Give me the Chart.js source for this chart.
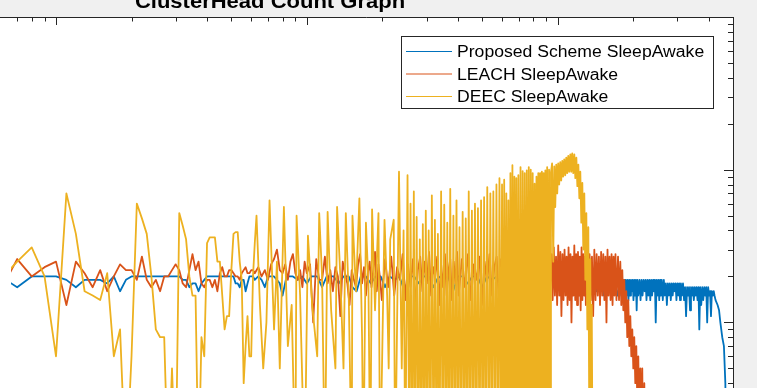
<!DOCTYPE html>
<html>
<head>
<meta charset="utf-8">
<script src="https://cdn.jsdelivr.net/npm/chart.js@4.4.1/dist/chart.umd.min.js"></script>
<style>
  html, body { margin: 0; padding: 0; background: #f0f0f0; overflow: hidden; }
  canvas { display: block; }
</style>
</head>
<body>
<canvas id="chart" width="757" height="388"></canvas>
<script>
// rounds (x, log axis) and cluster head counts (y, log axis)
// a count of 1 means "below the visible part of the plot"
const proposedRounds = [
  6,7,8,9,10,11,12,13,14,15, 16,17,18,19,20,21,22,23,24,25,
  26,27,28,29,30,31,32,33,34,35, 36,37,38,39,40,41,42,43,44,45,
  46,47,48,49,50,51,52,53,54,55, 56,57,58,59,60,61,62,
  64,66,68,70,74,78,80,83,88,92, 96,100,104,110,115,120,128,134,140,147,
  152,158,164,172,180,188,197,205,214,224, 234,245,256,268,280,293,306,320,335,350,
  366,383,400,418,437,457,478,500,523,547, 572,598,625,654,684,715,748,782,818,855,
  894,935,
  980,1030,1080,1130,1180,1230,1280,1330,1380,1430, 1480,1530,1580,1630,1680,1730,
  1780,1795,1810,1825,1840,1855,1870,1885,1900,1915, 1930,1945,1960,1975,1990,2005,2020,2035,2050,2065,
  2080,2095,2120,2140,2160,2180,2200,2220,2240,2260, 2280,2300,2320,2340,2360,2380,2400,2420,2440,2460,
  2480,2500,2520,2540,2560,2580,2600,2625,2650,2675, 2700,2725,2750,2775,2800,2825,2850,2875,2900,2925,
  2950,2975,3000,3025,3050,3075,3100,3130,3160,3190, 3220,3250,3280,3310,3340,3370,3400,3430,3460,3490,
  3520,3550,3580,3610,3640,3670,3700,3735,3770,3805, 3840,3875,3910,3945,3980,4015,4050,4085,4120,4155,
  4190,
  4220,4260,4340,4400,4452,4530,4600,4661,4700,5000
];
const proposedCH = [
  20,17,20,20,20,19,17,19,19,19, 18,20,16,19,20,20,20,20,20,20,
  20,20,20,20,20,20,19,19,17,18, 18,16,18,19,20,20,20,20,20,20,
  20,20,20,20,20,20,18,18,17,19, 19,16,18,20,20,20,19,
  20,19,17,20,20,18,15,20,20,19, 20,18,20,20,17,20,20,18,20,20,
  17,16,20,20,18,20,20,17,20,19, 20,16,20,20,18,20,20,17,20,19,
  20,16,20,20,18,20,20,17,20,19, 20,16,20,20,18,20,17,20,20,16,
  20,19,
  20,15,19,16,20,15,19,15,20,16, 19,15,20,16,19,15,
  19,15,19,14,19,16,19,15,19,14, 19,15,19,16,19,14,19,15,19,12,
  19,15,19,14,19,15,19,16,19,14, 19,15,19,14,19,15,19,16,19,10,
  19,15,19,14,19,15,19,14,19,15, 18,13,18,15,18,14,18,15,18,16,
  18,14,18,15,18,14,18,15,18,14, 17,11,17,15,17,12,17,15,17,14,
  17,15,17,14,17,9,17,13,17,14, 17,15,17,10,17,15,16,11,16,15,
  16,
  15,14,13,12,10,8,7,4,1,1
];

const leachRounds = [
  6,7,8,9,10,11,12,13,14,15, 16,17,18,19,20,21,22,23,24,25,
  26,27,28,29,30,31,32,33,34,35, 36,37,38,39,40,41,42,43,44,45,
  46,47,48,49,50,51,52,53,54,55, 56,57,58,59,60,61,62,
  64,66,68,70,72,74,76,78,80,82, 84,86,88,90,92,94,96,98,100,103,
  106,109,112,115,118,121,124,127,130,133, 136,139,142,145,148,151,154,157,160,163,
  166,169,172,175,178,181,184,187,190,193, 196,199,205,211,217,223,229,235,241,247,
  253,259,265,271,277,283,289,295,301,307, 313,319,325,331,337,343,349,355,361,367,
  373,379,385,391,397,403,415,427,439,451, 463,475,487,499,511,523,535,547,559,571,
  583,595,607,619,631,643,655,667,679,691, 703,715,727,739,751,763,775,787,799,811,
  823,835,847,859,871,883,895,907,919,931,
  945,955,965,975,985,995,1005,1015,1025,1035, 1045,1055,1065,1075,1085,1095,1105,1115,1125,1135,
  1145,1155,1165,1175,1185,1195,1205,1215,1225,1235, 1245,1255,1265,1275,1285,1295,
  1310,1325,1340,1355,1370,1385,1400,1415,1430,1445, 1460,1475,1490,1505,1520,1535,1550,1565,1580,1595,
  1610,1625,1640,1655,1670,1685,1700,1715,
  1740,1756,1777,1793,1810,1827,1843,1860,1877,1894, 1912,1930,1948,1966,1984,2002,2020,2039,2058,2077,
  2096,2115,2135,2154,2174,2194,2215,2236,2277,2300, 5000
];
const leachCH = [
  16,26,20,23,25,13,25,21,17,22, 16,20,24,22,22,19,27,19,17,19,
  16,20,20,22,24,22,18,17,22,28, 22,25,18,17,19,19,17,19,16,21,
  23,20,20,22,22,21,20,20,19,21, 22,23,21,21,22,22,21,
  23,20,22,19,24,26,30,22,21,24, 19,25,28,21,19,22,17,25,21,24,
  10,26,19,19,27,18,22,16,23,20, 11,25,21,18,13,22,19,17,24,28,
  18,23,15,21,25,17,22,29,16,24, 19,14,26,17,27,15,23,19,28,14,
  24,17,26,13,22,27,16,25,18,29, 15,23,20,27,13,24,17,28,15,22,
  26,14,25,18,29,15,26,17,28,14, 24,19,27,13,25,18,28,15,23,27,
  14,26,17,29,13,24,20,28,15,25, 16,27,13,24,19,28,14,26,17,29,
  15,23,27,13,25,18,28,14,26,16,
  28,14,31,15,27,13,32,15,29,11, 28,14,30,15,27,13,31,14,28,10,
  27,15,32,14,28,13,29,15,27,12, 31,14,28,15,27,13,
  29,15,28,14,27,11,30,14,28,15, 27,13,29,15,28,14,27,10,30,15,
  27,14,28,13,27,15,28,14,
  27,14,25,13,22,12,19,10,16,8, 14,7,11,6,9,5,8,4,7,3,
  6,2,5,2,5,1,4,1,3,1, 1
];

const deecRounds = [
  6,7,8,9,10,11,12,13,14,15, 16,17,18,19,20,21,22,23,24,25,
  26,27,28,29,30,31,32,33,34,35, 36,37,38,39,40,41,42,43,44,45,
  46,47,48,49,50,51,52,53,54,55, 56,57,58,59,60,61,62,
  63,65,67,69,71,74,76,78,81,84, 87,90,91,94,98,101,105,110,112,115,
  118,121,125,130,132,136,140,143,147,151, 152,157,162,166,168,172,176,179,182,187,
  193,196,204,209,212,215,222,225,233,239, 243,247,
  252,256,259,263,267,270,274,278,282,286, 290,294,298,302,306,311,315,320,324,329,
  333,338,343,348,353,358,363,368,373,378, 384,389,395,400,406,412,418,424,430,436,
  442,448,455,461,468,474,481,488,495,502, 509,516,524,531,539,546,554,562,570,578,
  586,
  594,600,606,612,618,624,630,636,642,648, 654,660,666,672,678,684,690,697,704,711,
  718,725,732,739,746,753,760,767,774,781, 788,795,802,809,816,823,830,837,844,851,
  858,865,872,879,886,893,900,908,916,924, 932,940,
  950,960,969,978,987,996,1005,1014,1024,1033, 1043,1052,1062,1072,1082,1092,1102,1112,1123,1133,
  1143,1154,1165,1176,1187,1198,1209,1220,1231,1242, 1254,1265,1277,1289,1301,1313,1325,1337,1349,1358,
  1367,1378,5000
];
const deecCH = [
  19,25,31,20,6,70,38,16,15,14, 21,6,9,1,6,60,48,38,20,9,
  8,8,1,5,1,52,43,35,20,15, 15,1,8,6,33,36,36,36,25,25,
  15,9,11,11,22,38,39,39,25,19, 4,7,11,6,6,20,33,
  50,13,5,10,63,9,25,5,57,7, 13,1,50,15,1,37,13,6,52,20,
  1,53,12,5,57,20,5,52,14,1, 50,16,65,8,1,45,18,1,55,12,
  52,1,47,15,5,35,47,1,97,5, 40,1,
  92,1,60,1,72,1,49,1,35,1, 44,1,54,1,40,1,68,1,47,1,
  38,1,72,1,59,1,45,1,75,1, 50,1,63,1,42,1,53,1,48,1,
  72,1,54,1,60,1,56,1,63,1, 66,1,77,1,70,1,72,1,80,1,
  88,
  1,80,1,86,1,70,1,63,1,95, 1,107,1,90,1,88,1,92,1,104,
  1,98,1,95,1,99,1,104,1,100, 1,95,1,81,1,90,1,95,1,95,
  1,97,1,95,1,99,1,104,1,100, 1,96,
  110,25,105,57,108,70,110,80,112,85, 114,90,117,92,120,95,123,97,126,97,
  128,95,126,88,120,78,108,65,97,45, 82,30,70,19,52,9,42,2,26,2,
  13,1,1
];

const titleText = 'ClusterHead Count Graph';
const seriesNames = ['Proposed Scheme SleepAwake', 'LEACH SleepAwake', 'DEEC SleepAwake'];
const seriesColors = ['#0072bd', '#d95319', '#edb120'];

// tick marks (no tick labels are visible in the crop)
const xTickValues = [7,8,9,10,20,30,40,50,60,70,80,90,100,200,300,400,500,600,700,800,900,1000,2000,3000,4000];
const yTickValues = [4,5,6,7,8,9,10,20,30,40,50,60,70,80,90,100,200,300,400,500,600,700,800,900];

const toPoints = (rounds, counts) => {
  if (rounds.length !== counts.length) console.error('length mismatch', rounds.length, counts.length);
  return rounds.map((r, i) => ({ x: r, y: counts[i] }));
};
const isMajor = (v) => Math.abs(Math.log10(v) - Math.round(Math.log10(v))) < 1e-9;

const matlabFrame = {
  id: 'matlabFrame',
  beforeDraw(chart) {
    const { ctx, chartArea: a } = chart;
    ctx.save();
    ctx.fillStyle = '#f0f0f0';
    ctx.fillRect(0, 0, chart.width, chart.height);
    ctx.fillStyle = '#ffffff';
    ctx.fillRect(0, a.top, a.right, chart.height - a.top);
    ctx.restore();
  },
  afterDraw(chart) {
    const { ctx, chartArea: a } = chart;
    const xs = chart.scales.x, ys = chart.scales.y;
    ctx.save();

    // box lines + inward ticks
    ctx.strokeStyle = '#262626';
    ctx.lineWidth = 1;
    ctx.beginPath();
    ctx.moveTo(0, a.top + 0.5);
    ctx.lineTo(a.right + 0.5, a.top + 0.5);
    ctx.moveTo(a.right + 0.5, a.top);
    ctx.lineTo(a.right + 0.5, a.bottom);
    xTickValues.forEach(v => {
      const px = Math.round(xs.getPixelForValue(v)) + 0.5;
      ctx.moveTo(px, a.top);
      ctx.lineTo(px, a.top + (isMajor(v) ? 8 : 4.5));
    });
    yTickValues.forEach(v => {
      const py = Math.round(ys.getPixelForValue(v)) + 0.5;
      ctx.moveTo(a.right, py);
      ctx.lineTo(a.right - (isMajor(v) ? 9 : 5), py);
    });
    ctx.stroke();

    // title, mostly cut off by the crop
    ctx.fillStyle = '#000';
    ctx.font = 'bold 20px "Liberation Sans", Arial, sans-serif';
    ctx.textAlign = 'center';
    ctx.textBaseline = 'alphabetic';
    ctx.save();
    ctx.translate(270, 8);
    ctx.scale(1.1, 1);
    ctx.fillText(titleText, 0, 0);
    ctx.restore();

    // legend box
    const lx = 401.5, ly = 36.5, lw = 312, lh = 72;
    ctx.fillStyle = '#ffffff';
    ctx.fillRect(lx, ly, lw, lh);
    ctx.strokeStyle = '#262626';
    ctx.strokeRect(lx, ly, lw, lh);
    ctx.font = '16px "Liberation Sans", Arial, sans-serif';
    ctx.textAlign = 'left';
    chart.data.datasets.forEach((ds, i) => {
      const rowY = 51.5 + i * 22.5;
      ctx.strokeStyle = ds.borderColor;
      ctx.beginPath();
      ctx.moveTo(406, rowY);
      ctx.lineTo(452, rowY);
      ctx.stroke();
      ctx.fillStyle = '#000';
      ctx.save();
      ctx.translate(457, rowY + 5.8);
      ctx.scale(1.1, 1);
      ctx.fillText(ds.label, 0, 0);
      ctx.restore();
    });
    ctx.restore();
  }
};

new Chart(document.getElementById('chart'), {
  type: 'line',
  data: {
    datasets: [
      { label: seriesNames[0], data: toPoints(proposedRounds, proposedCH), borderColor: seriesColors[0], order: 2 },
      { label: seriesNames[1], data: toPoints(leachRounds, leachCH), borderColor: seriesColors[1], order: 1 },
      { label: seriesNames[2], data: toPoints(deecRounds, deecCH), borderColor: seriesColors[2], order: 0 }
    ]
  },
  options: {
    responsive: false,
    animation: false,
    devicePixelRatio: 1,
    parsing: false,
    events: [],
    layout: { padding: { left: 11, top: 17, right: 24, bottom: 0 } },
    elements: {
      point: { radius: 0 },
      line: { borderWidth: 1.8, tension: 0, borderJoinStyle: 'round', fill: false }
    },
    datasets: { line: { clip: 0 } },
    scales: {
      x: { type: 'logarithmic', min: 6.615, max: 5000, display: false },
      y: { type: 'logarithmic', min: 3.72, max: 1000, display: false }
    },
    plugins: {
      legend: { display: false },
      tooltip: { enabled: false },
      title: { display: false }
    }
  },
  plugins: [matlabFrame]
});
</script>
</body>
</html>
